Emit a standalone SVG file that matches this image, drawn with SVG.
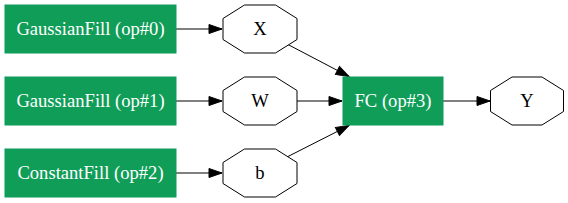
<svg xmlns="http://www.w3.org/2000/svg" width="568" height="203" viewBox="0 0 568 203">
<style>
.op{fill:#0F9D58;stroke:#0F9D58;stroke-width:1}
.blob{fill:#ffffff;stroke:#000000;stroke-width:1}
.t{font-family:'Liberation Serif','Times New Roman',serif;font-size:18.6px;text-anchor:middle}
.tw{fill:#ffffff}
.tb{fill:#000000}
.e{fill:none;stroke:#000000;stroke-width:1;marker-end:url(#ah)}
</style>
<defs>
<marker id="ah" markerUnits="userSpaceOnUse" markerWidth="13" markerHeight="9" refX="13" refY="4.5" orient="auto" overflow="visible">
<path d="M0,0 L13,4.5 L0,9 z" fill="#000000" stroke="#000000" stroke-width="1"/>
</marker>
</defs>
<rect width="568" height="203" fill="#ffffff"/>
<g id="connectors">
<path class="e" d="M176,29 L222,29"/>
<path class="e" d="M176,101 L222,101"/>
<path class="e" d="M176,173 L222,173"/>
<path class="e" d="M287,44 L349,76.5"/>
<path class="e" d="M297,101 L342,101"/>
<path class="e" d="M287,157 L349,125.5"/>
<path class="e" d="M443,101 L490,101"/>
</g>
<g id="op0">
<rect class="op" x="5" y="5" width="171" height="48"/>
<text class="t tw" x="90.5" y="35">GaussianFill (op#0)</text>
</g>
<g id="op1">
<rect class="op" x="5" y="77" width="171" height="48"/>
<text class="t tw" x="90.5" y="107">GaussianFill (op#1)</text>
</g>
<g id="op2">
<rect class="op" x="5" y="149" width="171" height="48"/>
<text class="t tw" x="90.5" y="179">ConstantFill (op#2)</text>
</g>
<g id="X">
<polygon class="blob" points="244.5,5 275.5,5 297,18.5 297,39.5 275.5,53 244.5,53 223,39.5 223,18.5"/>
<text class="t tb" x="260" y="35">X</text>
</g>
<g id="W">
<polygon class="blob" points="244.5,77 275.5,77 297,90.5 297,111.5 275.5,125 244.5,125 223,111.5 223,90.5"/>
<text class="t tb" x="260" y="107">W</text>
</g>
<g id="b">
<polygon class="blob" points="244.5,149 275.5,149 297,162.5 297,183.5 275.5,197 244.5,197 223,183.5 223,162.5"/>
<text class="t tb" x="260" y="179">b</text>
</g>
<g id="op3">
<rect class="op" x="343" y="77" width="100" height="48"/>
<text class="t tw" x="393" y="107">FC (op#3)</text>
</g>
<g id="Y">
<polygon class="blob" points="512,77 542,77 563.5,90.5 563.5,111.5 542,125 512,125 490.5,111.5 490.5,90.5"/>
<text class="t tb" x="527" y="107">Y</text>
</g>
</svg>
